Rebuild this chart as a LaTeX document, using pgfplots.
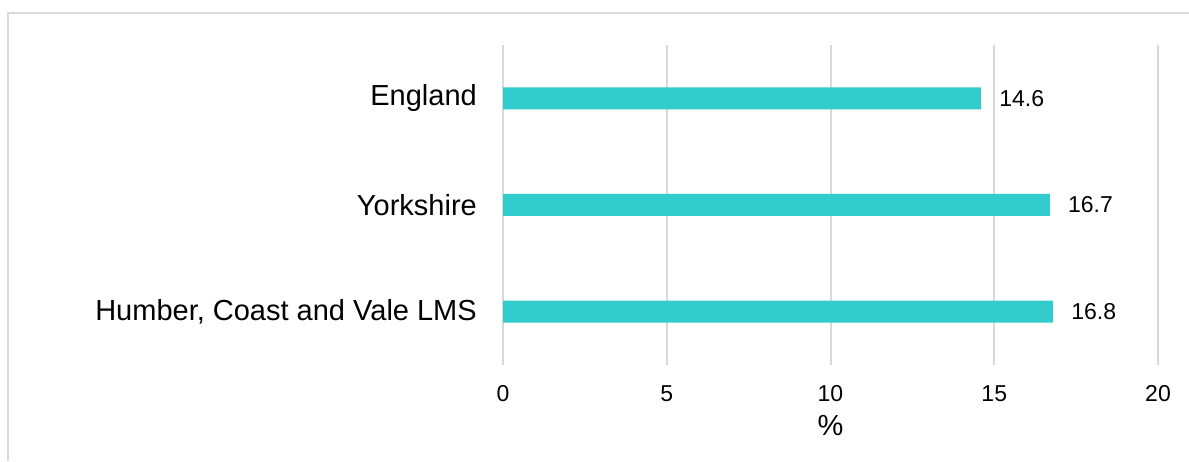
\documentclass[border=0pt]{standalone}
\usepackage{fontspec}
\setmainfont{Liberation Sans}
\usepackage{pgfplots}
\pgfplotsset{compat=1.18}
\definecolor{barc}{RGB}{51,204,204}
\definecolor{gridc}{RGB}{217,217,217}
\begin{document}
\begin{tikzpicture}[x=1pt,y=1pt]
\useasboundingbox (0,0) rectangle (1189,461);
\draw[gridc, line width=2pt] (8,0) -- (8,448) -- (1189,448);
\begin{axis}[
  at={(503pt,96pt)}, anchor=south west,
  scale only axis, width=655pt, height=320pt,
  xbar, bar width=22pt,
  xmin=0, xmax=20, ymin=-0.5, ymax=2.5,
  xtick={0,5,10,15,20},
  ytick={0,1,2},
  yticklabels={{Humber, Coast and Vale LMS},Yorkshire,England},
  axis line style={draw=none},
  major tick length=0pt,
  xmajorgrids, grid style={gridc, line width=2pt},
  ymajorgrids=false,
  /pgf/number format/assume math mode=true,
  xticklabel style={font=\fontsize{23}{27}\selectfont, anchor=north, inner sep=0pt, yshift=-20pt},
  yticklabel style={font=\fontsize{29}{34}\selectfont, anchor=east, inner sep=0pt, xshift=-26pt},
  xlabel={\%},
  xlabel style={font=\fontsize{29}{34}\selectfont, at={(axis description cs:0.5,0)}, anchor=north, inner sep=0pt, yshift=-50pt},
  nodes near coords,
  nodes near coords style={font=\fontsize{23}{27}\selectfont, anchor=west, inner sep=0pt, xshift=18pt, /pgf/number format/fixed, /pgf/number format/fixed zerofill, /pgf/number format/precision=1},
  clip=false,
]
\addplot[fill=barc, draw=none] coordinates {(16.8,0) (16.7,1) (14.6,2)};
\end{axis}
\end{tikzpicture}
\end{document}
